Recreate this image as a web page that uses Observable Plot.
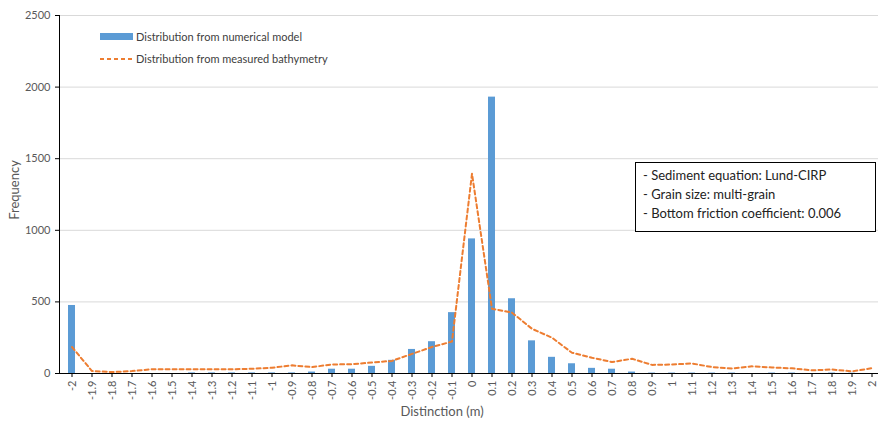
<!DOCTYPE html>
<html><head>
<meta charset="utf-8">
<script src="https://cdn.jsdelivr.net/npm/d3@7"></script>
<script src="https://cdn.jsdelivr.net/npm/@observablehq/plot@0.6"></script>
<style>
body{margin:0;background:#fff;}
#wrap{position:relative;width:878px;height:421px;font-family:Lato,"Open Sans",sans-serif;color:#595959;overflow:hidden;}
#wrap svg{position:absolute;left:0;top:0;}
.ylab{position:absolute;left:14px;top:190px;transform:translate(-50%,-50%) rotate(-90deg);font-size:13px;white-space:nowrap;}
.xlab{position:absolute;left:442px;top:411px;transform:translate(-50%,-50%);font-size:13px;white-space:nowrap;}
.leg{position:absolute;left:100px;font-size:11px;color:#404040;display:flex;align-items:center;white-space:nowrap;}
.sw{width:33px;margin-right:3px;}
.note{position:absolute;left:635px;top:162px;width:241px;height:70px;border:1px solid #000;background:#fff;font-size:13px;color:#222;line-height:19px;padding:3px 0 0 7px;box-sizing:border-box;white-space:nowrap;}
</style>
</head><body>
<div id="wrap"></div>
<script>
const categories = ["-2","-1.9","-1.8","-1.7","-1.6","-1.5","-1.4","-1.3","-1.2","-1.1","-1","-0.9","-0.8","-0.7","-0.6","-0.5","-0.4","-0.3","-0.2","-0.1","0","0.1","0.2","0.3","0.4","0.5","0.6","0.7","0.8","0.9","1","1.1","1.2","1.3","1.4","1.5","1.6","1.7","1.8","1.9","2"];
const modelFreq = [475,0,0,0,0,0,4,4,4,4,4,4,10,30,30,50,92,168,222,425,940,1930,522,228,113,68,36,30,10,3,3,3,3,3,0,3,3,0,3,2,0];
const measuredFreq = [185,17,10,17,30,30,30,30,30,33,40,57,45,63,65,77,88,137,185,223,1395,452,425,312,250,145,110,80,103,60,63,70,45,35,50,42,36,22,28,15,37];
const yTicks = [0,500,1000,1500,2000,2500];
const legendLabels = ["Distribution from numerical model","Distribution from measured bathymetry"];
const noteLines = ["- Sediment equation: Lund-CIRP","- Grain size: multi-grain","- Bottom friction coefficient: 0.006"];
const xLabel = "Distinction (m)";
const yLabel = "Frequency";

const barColor = "#5B9BD5";
const lineColor = "#ED7D31";

const data = categories.map((c,i)=>({cat:c, model:modelFreq[i], measured:measuredFreq[i]}));

const chart = Plot.plot({
  width: 878,
  height: 421,
  marginLeft: 59,
  marginRight: 0,
  marginTop: 15,
  marginBottom: 48,
  style: {fontFamily: "Lato, 'Open Sans', sans-serif", color: "#595959", background: "transparent"},
  x: {type: "band", domain: categories, range: [59, 883], paddingInner: 0.65, paddingOuter: 0.325},
  y: {domain: [0, 2500]},
  marks: [
    Plot.gridY(yTicks, {stroke: "#d9d9d9", strokeOpacity: 1}),
    Plot.barY(data, {x: "cat", y: "model", fill: barColor}),
    Plot.line(data, {x: "cat", y: "measured", stroke: lineColor, strokeWidth: 2, strokeDasharray: "4,3"}),
    Plot.ruleY([0], {stroke: "#000"}),
    Plot.frame({anchor: "left", stroke: "#000"}),
    Plot.axisY(yTicks, {tickSize: 4, tickPadding: 5, fontSize: 11, label: null, stroke: "#000", tickFormat: d => String(d)}),
    Plot.axisX({tickSize: 4, tickPadding: 3, tickRotate: -90, fontSize: 11, label: null, stroke: "#000"})
  ]
});
const wrap = document.getElementById("wrap");
wrap.appendChild(chart);

const yl = document.createElement("div"); yl.className = "ylab"; yl.textContent = yLabel; wrap.appendChild(yl);
const xl = document.createElement("div"); xl.className = "xlab"; xl.textContent = xLabel; wrap.appendChild(xl);

const l1 = document.createElement("div"); l1.className = "leg"; l1.style.top = "30px";
l1.innerHTML = `<div class="sw" style="height:7px;background:${barColor}"></div><span></span>`;
l1.querySelector("span").textContent = legendLabels[0];
wrap.appendChild(l1);
const l2 = document.createElement("div"); l2.className = "leg"; l2.style.top = "52px";
l2.innerHTML = `<svg class="sw" width="33" height="4" style="position:static"><line x1="0" y1="2" x2="33" y2="2" stroke="${lineColor}" stroke-width="2" stroke-dasharray="4,3"/></svg><span></span>`;
l2.querySelector("span").textContent = legendLabels[1];
wrap.appendChild(l2);

const note = document.createElement("div"); note.className = "note";
noteLines.forEach(t => { const d = document.createElement("div"); d.textContent = t; note.appendChild(d); });
wrap.appendChild(note);
</script>
</body></html>
